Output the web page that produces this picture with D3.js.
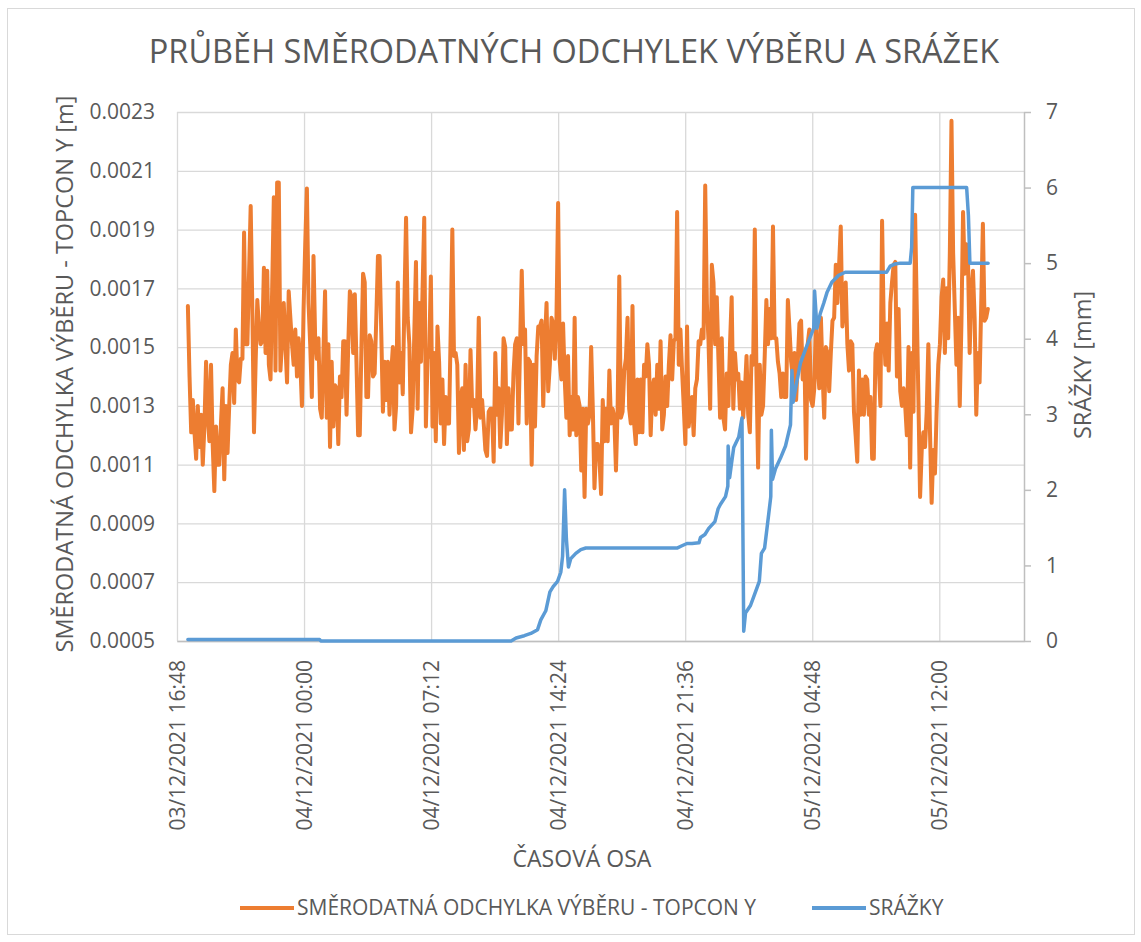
<!DOCTYPE html>
<html>
<head>
<meta charset="utf-8">
<script src="https://cdn.jsdelivr.net/npm/d3@7"></script>
<style>
  body { margin: 0; background: #fff; }
  svg text { font-family: "Open Sans", sans-serif; fill: #595959; }
</style>
</head>
<body>
<svg id="chart" width="1141" height="942"></svg>
<script>
// time axis
const xDomain = ["2021-12-03 16:48", "2021-12-05 16:48"];
const xTicks = ["2021-12-03 16:48", "2021-12-04 00:00", "2021-12-04 07:12", "2021-12-04 14:24",
                "2021-12-04 21:36", "2021-12-05 04:48", "2021-12-05 12:00"];
const leftTicks = [0.0005, 0.0007, 0.0009, 0.0011, 0.0013, 0.0015, 0.0017, 0.0019, 0.0021, 0.0023];
const rightTicks = [0, 1, 2, 3, 4, 5, 6, 7];

// standard deviation, regular measurements
const stdStart = "2021-12-03 17:25";
const stdStepMin = 5.62;
const stdValues = [
  0.00164,0.00140,0.00121,0.00132,0.00121,0.00112,0.00130,0.00116,0.00127,0.00110,
  0.00123,0.00145,0.00127,0.00118,0.00144,0.00117,0.00101,0.00123,0.00110,0.00110,
  0.00124,0.00136,0.00105,0.00130,0.00114,0.00130,0.00144,0.00148,0.00131,0.00156,
  0.00139,0.00138,0.00146,0.00146,0.00189,0.00151,0.00151,0.00175,0.00198,0.00163,
  0.00121,0.00145,0.00166,0.00157,0.00151,0.00152,0.00177,0.00148,0.00176,0.00144,
  0.00139,0.00170,0.00201,0.00142,0.00206,0.00206,0.00142,0.00152,0.00165,0.00151,
  0.00138,0.00169,0.00160,0.00151,0.00144,0.00156,0.00140,0.00153,0.00145,0.00130,
  0.00163,0.00185,0.00204,0.00165,0.00151,0.00133,0.00181,0.00153,0.00146,
  0.00153,0.00129,0.00126,0.00148,0.00169,0.00126,0.00151,0.00116,0.00145,0.00123,
  0.00137,0.00136,0.00117,0.00140,0.00133,0.00152,0.00152,0.00127,0.00150,0.00169,
  0.00167,0.00148,0.00168,0.00145,0.00120,0.00120,0.00150,0.00175,0.00172,0.00133,
  0.00133,0.00154,0.00152,0.00140,0.00141,0.00160,0.00181,0.00181,0.00155,0.00128,
  0.00145,0.00132,0.00145,0.00127,0.00141,0.00150,0.00122,0.00130,0.00172,0.00138,
  0.00148,0.00134,0.00165,0.00194,0.00160,0.00151,0.00121,0.00129,0.00155,0.00179,
  0.00129,0.00165,0.00145,0.00170,0.00194,0.00123,0.00146,0.00148,0.00174,0.00123,
  0.00148,0.00118,0.00157,0.00145,0.00124,0.00139,0.00117,0.00133,0.00124,0.00124,
  0.00155,0.00190,0.00147,0.00148,
  0.00144,0.00114,0.00132,0.00136,0.00115,0.00144,0.00118,0.00122,0.00149,0.00130,
  0.00132,0.00122,0.00130,0.00160,0.00126,0.00132,0.00124,0.00115,0.00113,0.00128,
  0.00129,0.00129,0.00111,0.00148,0.00127,0.00136,0.00116,0.00127,0.00153,0.00150,
  0.00117,0.00136,0.00122,0.00122,0.00141,0.00151,0.00153,0.00124,0.00151,0.00176,
  0.00151,0.00156,0.00124,0.00146,0.00145,0.00110,0.00144,0.00123,0.00147,0.00157,
  0.00157,0.00159,0.00130,0.00151,0.00165,0.00135,0.00144,0.00160,0.00158,0.00146,
  0.00160,0.00199,0.00145,0.00139,0.00158,0.00139,0.00126,0.00147,0.00120,0.00133,
  0.00122,0.00160,0.00120,0.00133,0.00130,0.00108,0.00129,0.00099,0.00129,0.00124,
  0.00127,0.00150,0.00129,0.00102,0.00117,
  0.00117,0.00112,0.00100,0.00132,0.00118,0.00129,0.00118,0.00142,0.00124,0.00129,
  0.00126,0.00108,0.00129,0.00174,0.00126,0.00128,0.00142,0.00146,0.00160,0.00129,
  0.00124,0.00164,0.00124,0.00117,0.00139,0.00121,0.00139,0.00121,0.00144,0.00140,
  0.00151,0.00144,0.00120,0.00136,0.00139,0.00127,0.00144,0.00129,0.00152,0.00122,
  0.00127,0.00140,0.00130,0.00144,0.00154,0.00139,0.00152,0.00153,0.00196,0.00144,
  0.00156,0.00142,0.00130,0.00117,0.00157,0.00123,0.00129,0.00133,0.00120,0.00136,
  0.00139,0.00152,0.00151,0.00156,0.00153,0.00205,0.00165,0.00152,0.00129,0.00178,
  0.00172,0.00151,0.00167,0.00146,0.00126,0.00153,0.00126,0.00122,0.00141,0.00130,
  0.00151,0.00167,0.00129,0.00148,0.00139,
  0.00141,0.00129,0.00138,0.00126,0.00135,0.00147,0.00127,0.00121,0.00147,0.00144,
  0.00190,0.00141,0.00109,0.00144,0.00127,0.00130,0.00147,0.00166,0.00151,0.00163,
  0.00153,0.00191,0.00153,0.00153,0.00145,0.00141,0.00133,0.00141,0.00133,0.00133,
  0.00166,0.00156,0.00145,0.00140,0.00148,0.00132,0.00145,0.00158,0.00159,0.00139,
  0.00148,0.00112,0.00151,0.00156,0.00132,0.00130,0.00136,0.00160,0.00144,0.00136,
  0.00160,0.00141,0.00126,0.00150,0.00148,0.00135,0.00148,0.00159,0.00160,0.00178,
  0.00165,0.00178,0.00191,0.00157,0.00163,0.00172,0.00151,0.00142,0.00152,0.00151,
  0.00128,0.00120,0.00111,0.00142,0.00127,0.00139,0.00127,0.00140,0.00139,0.00127,
  0.00133,0.00112,0.00112,0.00148,0.00151,
  0.00144,0.00130,0.00193,0.00158,0.00144,0.00158,0.00142,0.00165,0.00172,0.00178,
  0.00179,0.00140,0.00163,0.00135,0.00130,0.00136,0.00130,0.00120,0.00150,0.00109,
  0.00148,0.00128,0.00195,0.00163,0.00132,0.00099,0.00115,0.00121,0.00116,0.00128,
  0.00151,0.00121,0.00097,0.00115,0.00107,0.00128,0.00144,0.00151,0.00167,0.00173,
  0.00148,0.00170,0.00153,0.00182,0.00227,0.00182,0.00163,0.00144,0.00160,0.00130,
  0.00158,0.00196,0.00175,0.00185,0.00179,0.00148,0.00169,0.00176,0.00160,0.00127,
  0.00148,0.00138,0.00165,0.00192,0.00159,0.00160,0.00163
];

// precipitation (cumulative)
const rainTimes = [
  "2021-12-03 17:25", "2021-12-04 00:53", "2021-12-04 00:57", "2021-12-04 11:44", "2021-12-04 12:01",
  "2021-12-04 12:29", "2021-12-04 12:51", "2021-12-04 13:14", "2021-12-04 13:25", "2021-12-04 13:42",
  "2021-12-04 13:56", "2021-12-04 14:07", "2021-12-04 14:22", "2021-12-04 14:33", "2021-12-04 14:39",
  "2021-12-04 14:46", "2021-12-04 14:52", "2021-12-04 14:59", "2021-12-04 15:07", "2021-12-04 15:24",
  "2021-12-04 15:41", "2021-12-04 15:58", "2021-12-04 21:08", "2021-12-04 21:25", "2021-12-04 21:42",
  "2021-12-04 21:59", "2021-12-04 22:23", "2021-12-04 22:28", "2021-12-04 22:43", "2021-12-04 22:56",
  "2021-12-04 23:17", "2021-12-04 23:28", "2021-12-04 23:36", "2021-12-04 23:53", "2021-12-05 00:01",
  "2021-12-05 00:02", "2021-12-05 00:07", "2021-12-05 00:16", "2021-12-05 00:21", "2021-12-05 00:38",
  "2021-12-05 00:49", "2021-12-05 00:55", "2021-12-05 01:01", "2021-12-05 01:18", "2021-12-05 01:35",
  "2021-12-05 01:48", "2021-12-05 01:55", "2021-12-05 02:06", "2021-12-05 02:20", "2021-12-05 02:27",
  "2021-12-05 02:29", "2021-12-05 02:33", "2021-12-05 02:43", "2021-12-05 03:00", "2021-12-05 03:17",
  "2021-12-05 03:34", "2021-12-05 03:39", "2021-12-05 03:43", "2021-12-05 03:56", "2021-12-05 04:08",
  "2021-12-05 04:25", "2021-12-05 04:42", "2021-12-05 04:53", "2021-12-05 04:56", "2021-12-05 05:04",
  "2021-12-05 05:15", "2021-12-05 05:27", "2021-12-05 05:38", "2021-12-05 05:55", "2021-12-05 06:18",
  "2021-12-05 06:40", "2021-12-05 09:01", "2021-12-05 09:13", "2021-12-05 09:30", "2021-12-05 09:47",
  "2021-12-05 10:21", "2021-12-05 10:26", "2021-12-05 10:30", "2021-12-05 13:33", "2021-12-05 13:39",
  "2021-12-05 13:44", "2021-12-05 14:46"
];
const rainValues = [
  0.02, 0.02, 0, 0, 0.04,
  0.07, 0.10, 0.15, 0.28, 0.40,
  0.65, 0.72, 0.79, 0.91, 1.12,
  2.00, 1.35, 0.98, 1.09, 1.16,
  1.21, 1.23, 1.23, 1.26, 1.29,
  1.29, 1.30, 1.37, 1.41, 1.49,
  1.58, 1.75, 1.81, 1.91, 2.05,
  2.58, 2.16, 2.42, 2.56, 2.70,
  2.95, 0.13, 0.37, 0.47, 0.65,
  0.79, 1.16, 1.23, 1.68, 1.91,
  2.79, 2.14, 2.28, 2.42, 2.58,
  2.86, 3.58, 3.16, 3.44, 3.68,
  3.86, 4.03, 4.14, 4.63, 4.14,
  4.33, 4.47, 4.61, 4.75, 4.84,
  4.88, 4.88, 4.96, 4.99, 5.00,
  5.00, 5.21, 6.00, 6.00, 5.63,
  5.00, 5.00
];

const parseTime = d3.timeParse("%Y-%m-%d %H:%M");
const fmtTick = d3.timeFormat("%d/%m/%Y %H:%M");

const plot = {left: 177, right: 1024, top: 112, bottom: 641};
const gridColor = "#d9d9d9";
const axisColor = "#bfbfbf";

const svg = d3.select("#chart");

svg.append("rect")
   .attr("x", 7.5).attr("y", 8.5)
   .attr("width", 1127).attr("height", 926)
   .attr("fill", "#fff")
   .attr("stroke", gridColor);

const x = d3.scaleTime()
            .domain(xDomain.map(parseTime))
            .range([plot.left, plot.right]);
const yL = d3.scaleLinear().domain([0.0005, 0.0023]).range([plot.bottom, plot.top]);
const yR = d3.scaleLinear().domain([0, 7]).range([plot.bottom, plot.top]);

const start = parseTime(stdStart);
const stdData = stdValues.map((v, i) => ({t: new Date(+start + i * stdStepMin * 60000), v}));
const rainData = rainTimes.map((t, i) => ({t: parseTime(t), v: rainValues[i]}));

// gridlines
svg.append("g")
   .attr("transform", `translate(${plot.left},0)`)
   .call(d3.axisLeft(yL).tickValues(leftTicks).tickSize(-(plot.right - plot.left)).tickFormat(""))
   .call(g => g.select(".domain").remove())
   .call(g => g.selectAll("line").attr("stroke", gridColor).attr("stroke-width", 1.3));

svg.append("g")
   .attr("transform", `translate(0,${plot.bottom})`)
   .call(d3.axisBottom(x).tickValues(xTicks.map(parseTime)).tickSize(-(plot.bottom - plot.top)).tickFormat(""))
   .call(g => g.select(".domain").remove())
   .call(g => g.selectAll("line").attr("stroke", gridColor).attr("stroke-width", 1.3));

// left axis labels
svg.append("g")
   .attr("transform", `translate(${plot.left},0)`)
   .call(d3.axisLeft(yL).tickValues(leftTicks).tickSize(0).tickPadding(22).tickFormat(d3.format(".4f")))
   .call(g => g.select(".domain").remove())
   .call(g => g.selectAll("text").attr("font-size", 21).attr("fill", "#595959")
                .attr("font-family", "Open Sans, sans-serif"));

// bottom axis
svg.append("g")
   .attr("transform", `translate(0,${plot.bottom})`)
   .call(d3.axisBottom(x).tickValues(xTicks.map(parseTime)).tickSize(0).tickFormat(fmtTick).tickSizeOuter(0))
   .call(g => g.select(".domain").attr("stroke", axisColor).attr("stroke-width", 1.5))
   .call(g => g.selectAll("text")
                .attr("font-size", 21).attr("fill", "#595959")
                .attr("font-family", "Open Sans, sans-serif")
                .attr("transform", "rotate(-90)")
                .attr("text-anchor", "end")
                .attr("x", -19).attr("y", 0).attr("dy", "0.35em"));

// right axis
svg.append("g")
   .attr("transform", `translate(${plot.right},0)`)
   .call(d3.axisRight(yR).tickValues(rightTicks).tickSize(7).tickPadding(15)
           .tickSizeOuter(0).tickFormat(d3.format("d")))
   .call(g => g.select(".domain").attr("stroke", axisColor).attr("stroke-width", 1.5))
   .call(g => g.selectAll("line").attr("stroke", axisColor).attr("stroke-width", 1.5))
   .call(g => g.selectAll("text").attr("font-size", 21).attr("fill", "#595959")
                .attr("font-family", "Open Sans, sans-serif"));

// series
const stdLine = d3.line().x(d => x(d.t)).y(d => yL(d.v));
const rainLine = d3.line().x(d => x(d.t)).y(d => yR(d.v));

svg.append("path")
   .datum(stdData)
   .attr("d", stdLine)
   .attr("fill", "none")
   .attr("stroke", "#ED7D31")
   .attr("stroke-width", 4)
   .attr("stroke-linejoin", "round")
   .attr("stroke-linecap", "round");

svg.append("path")
   .datum(rainData)
   .attr("d", rainLine)
   .attr("fill", "none")
   .attr("stroke", "#5B9BD5")
   .attr("stroke-width", 3.5)
   .attr("stroke-linejoin", "round")
   .attr("stroke-linecap", "round");

// titles
svg.append("text")
   .attr("x", 574).attr("y", 63)
   .attr("text-anchor", "middle")
   .attr("font-size", 32.5)
   .text("PRŮBĚH SMĚRODATNÝCH ODCHYLEK VÝBĚRU A SRÁŽEK");

svg.append("text")
   .attr("transform", "translate(65,374) rotate(-90)")
   .attr("text-anchor", "middle")
   .attr("dy", "0.35em")
   .attr("font-size", 23.5)
   .text("SMĚRODATNÁ ODCHYLKA VÝBĚRU - TOPCON Y [m]");

svg.append("text")
   .attr("transform", "translate(1083,365) rotate(-90)")
   .attr("text-anchor", "middle")
   .attr("dy", "0.35em")
   .attr("font-size", 23.5)
   .text("SRÁŽKY [mm]");

svg.append("text")
   .attr("x", 582).attr("y", 867)
   .attr("text-anchor", "middle")
   .attr("font-size", 23)
   .text("ČASOVÁ OSA");

// legend
const legendItems = [
  {name: "SMĚRODATNÁ ODCHYLKA VÝBĚRU - TOPCON Y", color: "#ED7D31", x: 240},
  {name: "SRÁŽKY", color: "#5B9BD5", x: 812}
];

const legend = svg.append("g").attr("transform", "translate(0,908)");
legend.selectAll("g")
      .data(legendItems)
      .enter().append("g")
      .attr("transform", d => `translate(${d.x},0)`)
      .call(g => g.append("line")
                  .attr("x1", 0).attr("x2", 54)
                  .attr("stroke", d => d.color)
                  .attr("stroke-width", 4))
      .call(g => g.append("text")
                  .attr("x", 57)
                  .attr("dy", "0.35em")
                  .attr("font-size", 21)
                  .text(d => d.name));
</script>
</body>
</html>
